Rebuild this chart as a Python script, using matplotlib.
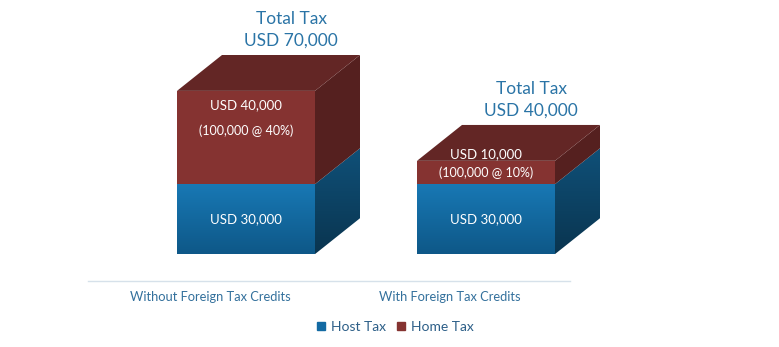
import numpy as np
import matplotlib.pyplot as plt
from matplotlib.patches import Polygon
from matplotlib.lines import Line2D
from matplotlib.colors import LinearSegmentedColormap

plt.rcParams['font.family'] = ['Lato', 'DejaVu Sans']

# data
categories = ["Without Foreign Tax Credits", "With Foreign Tax Credits"]
host_tax = [30000, 30000]
home_tax = [40000, 10000]
home_notes = ["(100,000 @ 40%)", "(100,000 @ 10%)"]

W, H = 779, 347
fig = plt.figure(figsize=(W / 100, H / 100), dpi=100)
# axes spans full width; y from 282 px (bottom) up to 0
ax = fig.add_axes([0, (H - 282) / H, 1, 282 / H])
px_x = 240.0            # pixels per category unit
px_y = 2.34 / 1000.0    # pixels per USD
ax.axis('off')

width = 138 / px_x
dx = 45 / px_x
dy = 36 / px_y

red_front = '#853331'
red_top = '#632625'
red_side = '#55201f'
title_col = '#2a74a6'
cat_col = '#33709c'

x = np.arange(len(categories))
host = np.array(host_tax)
home = np.array(home_tax)


def gradient(ax, poly, c1, c2):
    img = np.linspace(0, 1, 64).reshape(-1, 1)
    cmap = LinearSegmentedColormap.from_list('g', [c1, c2])
    xs = [p[0] for p in poly.get_xy()]
    ys = [p[1] for p in poly.get_xy()]
    im = ax.imshow(img, cmap=cmap, aspect='auto', origin='upper',
                   extent=[min(xs), max(xs), min(ys), max(ys)], zorder=poly.get_zorder())
    im.set_clip_path(poly)


for i in x:
    l, r = i - width / 2, i + width / 2
    h0, h1 = host[i], host[i] + home[i]
    # host front
    front = Polygon([(l, 0), (r, 0), (r, h0), (l, h0)], closed=True,
                    facecolor='none', edgecolor='none', zorder=2)
    ax.add_patch(front)
    gradient(ax, front, '#1878b4', '#0e5888')
    # host side
    side = Polygon([(r, 0), (r + dx, dy), (r + dx, h0 + dy), (r, h0)], closed=True,
                   facecolor='none', edgecolor='none', zorder=2)
    ax.add_patch(side)
    gradient(ax, side, '#0f5078', '#0a3550')
    # home front
    ax.add_patch(Polygon([(l, h0), (r, h0), (r, h1), (l, h1)], closed=True,
                         facecolor=red_front, edgecolor='none', zorder=3))
    # home side
    ax.add_patch(Polygon([(r, h0), (r + dx, h0 + dy), (r + dx, h1 + dy), (r, h1)],
                         closed=True, facecolor=red_side, edgecolor='none', zorder=3))
    # top
    ax.add_patch(Polygon([(l, h1), (r, h1), (r + dx, h1 + dy), (l + dx, h1 + dy)],
                         closed=True, facecolor=red_top, edgecolor='none', zorder=3))

    # labels
    ax.text(i, h0 / 2, f"USD {host[i]:,}", color='white', ha='center', va='center',
            fontsize=9.5, zorder=5)
    if i == 0:
        y1, y2 = h1 - 14 / px_y, h1 - 40 / px_y
    else:
        y1, y2 = h1 + 7 / px_y, h1 - 12 / px_y
    ax.text(i, y1, f"USD {home[i]:,}", color='white', ha='center', va='center',
            fontsize=9.5, zorder=5)
    ax.text(i, y2, home_notes[i], color='white', ha='center', va='center',
            fontsize=9, zorder=5)
    ax.text(i + dx, h1 + dy + 6 / px_y, f"Total Tax\nUSD {h1:,}", color=title_col,
            ha='center', va='bottom', fontsize=12.5, linespacing=1.45, zorder=5)
    ax.text(i - 36 / px_x, -43 / px_y, categories[i], color=cat_col, ha='center',
            va='center', fontsize=9.3, clip_on=False)

# base line
ax.plot([(88 - 246) / px_x, (570 - 246) / px_x], [-27 / px_y, -27 / px_y],
        color='#d6e1ea', lw=1, clip_on=False)

ax.set_xlim(-246 / px_x, 1 + (W - 486) / px_x)
ax.set_ylim(-28 / px_y, 255 / px_y)

handles = [Line2D([], [], marker='s', ls='none', color='#136aa3', markersize=5.5),
           Line2D([], [], marker='s', ls='none', color=red_front, markersize=5.5)]
fig.legend(handles, ["Host Tax", "Home Tax"], loc='center', ncol=2,
           bbox_to_anchor=(394 / W, 1 - 327 / H), frameon=False, fontsize=10,
           labelcolor='#2d5f88', handletextpad=0.2, columnspacing=0.6,
           handlelength=1.0)

fig.savefig('out.png', dpi=100)
